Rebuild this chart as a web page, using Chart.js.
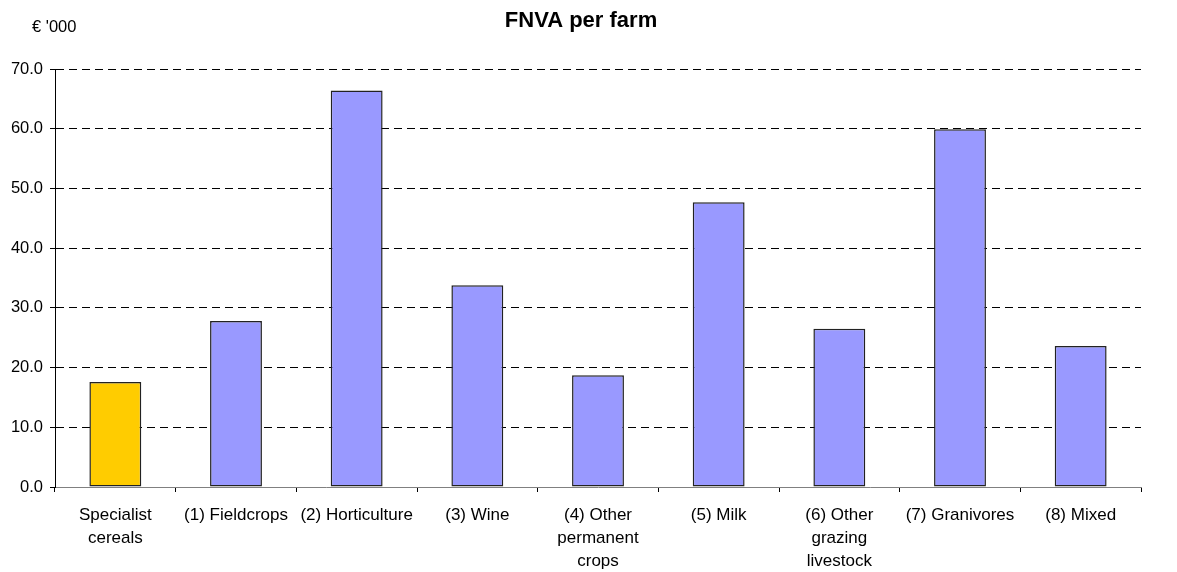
<!DOCTYPE html>
<html>
<head>
<meta charset="utf-8">
<script src="https://cdn.jsdelivr.net/npm/chart.js@4"></script>
<style>
    html, body { margin: 0; padding: 0; background: #fff; }
    #wrap { width: 1177px; height: 572px; }
</style>
</head>
<body>
<div id="wrap"><canvas id="chart" width="1177" height="572"></canvas></div>
<script>
'use strict'
// data
const categories = [
    ['Specialist', 'cereals'],
    '(1) Fieldcrops',
    '(2) Horticulture',
    '(3) Wine',
    ['(4) Other', 'permanent', 'crops'],
    '(5) Milk',
    ['(6) Other', 'grazing', 'livestock'],
    '(7) Granivores',
    '(8) Mixed'
];
const fnvaValues = [17.6, 27.8, 66.4, 33.8, 18.7, 47.7, 26.5, 59.9, 23.6];
const barColors = ['#FFCC00', '#9999FF', '#9999FF', '#9999FF', '#9999FF', '#9999FF', '#9999FF', '#9999FF', '#9999FF'];
const yTicks = [0, 10, 20, 30, 40, 50, 60, 70];

const chartTitle = 'FNVA per farm';
const unitLabel = "€ '000";

const font = 'Liberation Sans, Arial, sans-serif';

// title and unit text on top of the canvas
const headerText = {
    id: 'headerText',
    afterDraw(chart) {
        const ctx = chart.ctx;
        ctx.save();
        ctx.fillStyle = '#000';
        ctx.textBaseline = 'middle';
        ctx.textAlign = 'center';
        ctx.font = 'bold 22px ' + font;
        ctx.fillText(chartTitle, 581, 21);
        ctx.textAlign = 'left';
        ctx.font = '16.5px ' + font;
        ctx.fillText(unitLabel, 32, 27);
        ctx.restore();
    }
};

const ctx = document.getElementById('chart').getContext('2d');

new Chart(ctx, {
    type: 'bar',
    data: {
        labels: categories,
        datasets: [{
            data: fnvaValues,
            backgroundColor: barColors,
            borderColor: '#222',
            borderWidth: 1.5,
            borderSkipped: false,
            barPercentage: 0.43,
            categoryPercentage: 1
        }]
    },
    options: {
        responsive: false,
        animation: false,
        layout: {
            padding: { top: 69, right: 36, left: 0, bottom: 0 }
        },
        plugins: {
            legend: { display: false },
            title: { display: false },
            tooltip: { enabled: false }
        },
        scales: {
            x: {
                afterFit: (scale) => { scale.height = 572 - 487; },
                grid: {
                    display: true,
                    drawOnChartArea: false,
                    drawTicks: true,
                    tickLength: 5,
                    tickColor: '#000',
                    offset: true
                },
                border: { display: true, color: '#808080', width: 1 },
                ticks: {
                    color: '#000',
                    maxRotation: 0,
                    autoSkip: false,
                    padding: 12,
                    font: { family: font, size: 17, lineHeight: 1.35 }
                }
            },
            y: {
                min: 0,
                max: 70,
                afterFit: (scale) => { scale.width = 55; },
                afterBuildTicks: (scale) => {
                    scale.ticks = yTicks.map((v) => ({ value: v }));
                },
                grid: {
                    color: '#000',
                    lineWidth: 1,
                    drawTicks: true,
                    tickLength: 5,
                    tickColor: '#000',
                    tickBorderDash: []
                },
                border: { display: true, color: '#000', width: 1, dash: [8, 5] },
                ticks: {
                    color: '#000',
                    padding: 7,
                    font: { family: font, size: 16.5 },
                    callback: (v) => Number(v).toFixed(1)
                }
            }
        }
    },
    plugins: [headerText]
});
</script>
</body>
</html>
